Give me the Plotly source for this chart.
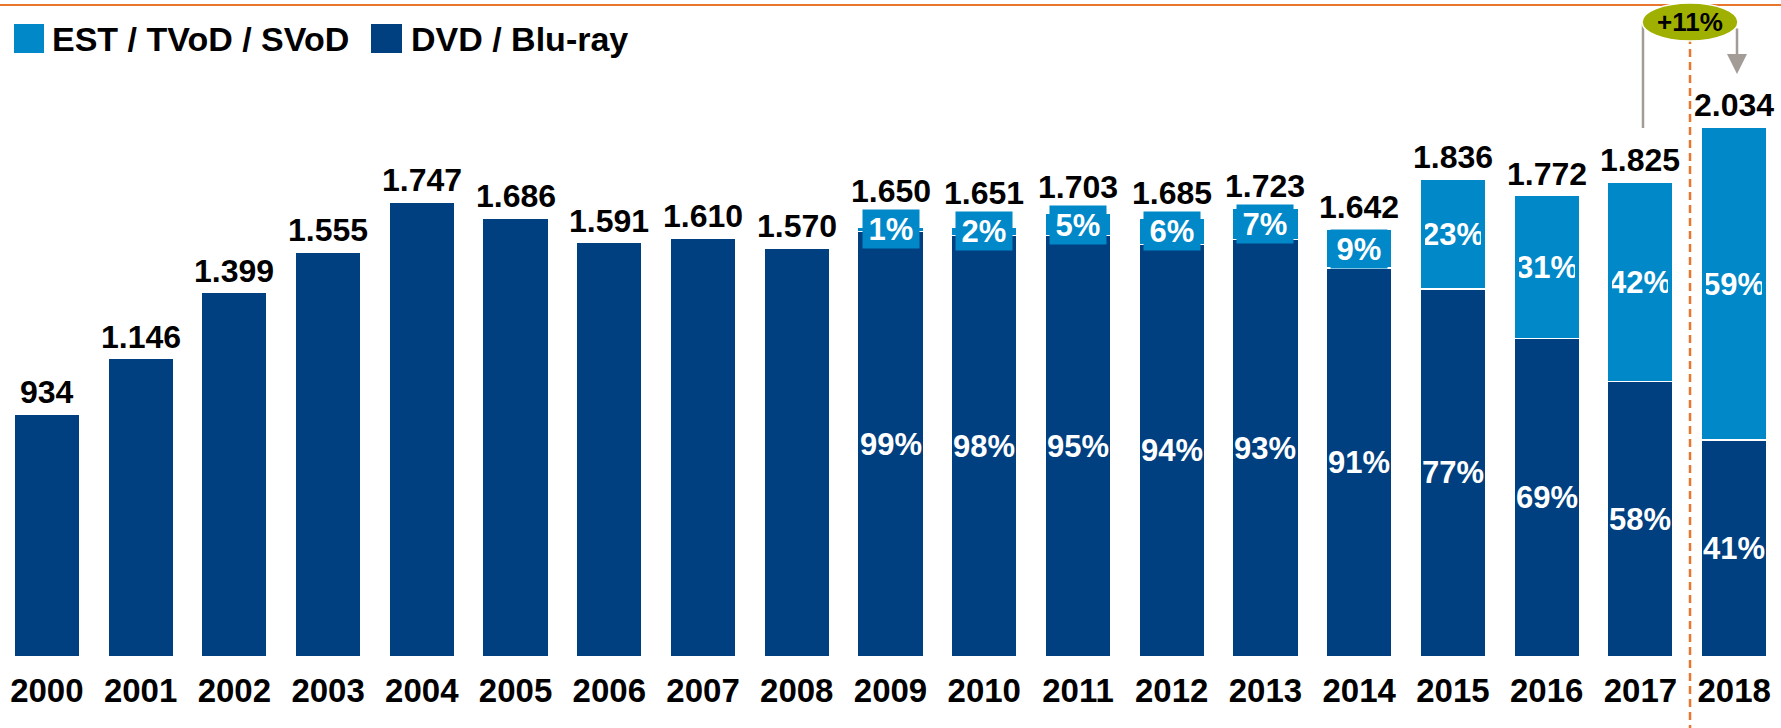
import plotly.graph_objects as go

# --- data ------------------------------------------------------------------
years = [str(y) for y in range(2000, 2019)]
totals = [934, 1146, 1399, 1555, 1747, 1686, 1591, 1610, 1570,
          1650, 1651, 1703, 1685, 1723, 1642, 1836, 1772, 1825, 2034]
digital_pct = [None] * 9 + [1, 2, 5, 6, 7, 9, 23, 31, 42, 59]
physical_pct = [None] * 9 + [99, 98, 95, 94, 93, 91, 77, 69, 58, 41]
growth_label = "+11%"

LIGHT = '#0088C8'
DARK = '#003F80'
ORANGE = '#E8762D'
GREY = '#A39C96'
OLIVE = '#A0B000'
FONT = 'Liberation Sans, Arial, sans-serif'

W, H = 1781, 728
MB = 71                      # bottom margin -> baseline at 657px
YMAX = 2523
PPU = (H - MB) / YMAX        # pixels per unit

digital = [t * p / 100 if p else 0 for t, p in zip(totals, digital_pct)]
physical = [t - d for t, d in zip(totals, digital)]

fig = go.Figure()
fig.add_trace(go.Bar(
    x=years, y=physical, name='DVD / Blu-ray',
    marker_color=DARK, marker_line=dict(color='white', width=1.5),
    hoverinfo='skip',
))
fig.add_trace(go.Bar(
    x=years, y=digital, name='EST / TVoD / SVoD',
    marker_color=LIGHT, marker_line=dict(color='white', width=1.5),
    hoverinfo='skip',
))

ann = []
for i, yr in enumerate(years):
    d, p, t = digital[i], physical[i], totals[i]
    # total value label above the bar (raised when the small % box sticks out)
    shift = 22
    if d > 0:
        shift = max(22, 38 - d / 2 * PPU)
    ann.append(dict(x=i, y=t, xref='x', yref='y', text=f'<b>{t:,}</b>'.replace(',', '.'),
                    showarrow=False, yanchor='middle', yshift=shift,
                    font=dict(size=32, color='black', family=FONT)))
    if digital_pct[i] is not None:
        ann.append(dict(x=i, y=p + d / 2, xref='x', yref='y',
                        text=f'<b>{digital_pct[i]}%</b>',
                        showarrow=False, yanchor='middle', xanchor='center',
                        width=56, height=38, bgcolor=LIGHT, borderpad=0,
                        font=dict(size=31, color='white', family=FONT)))
    if physical_pct[i] is not None:
        ann.append(dict(x=i, y=p / 2, xref='x', yref='y',
                        text=f'<b>{physical_pct[i]}%</b>',
                        showarrow=False, yanchor='middle',
                        font=dict(size=31, color='white', family=FONT)))


def py(px):
    """pixel row -> paper y"""
    return (H - MB - px) / (H - MB)


def px_(x):
    return x / W


shapes = [
    # orange rule at the very top
    dict(type='line', xref='paper', yref='paper', x0=0, x1=1, y0=py(5), y1=py(5),
         line=dict(color=ORANGE, width=2)),
    # dashed separator before 2018
    dict(type='line', xref='paper', yref='paper', x0=px_(1690), x1=px_(1690),
         y0=py(H + 5), y1=py(40), line=dict(color=ORANGE, width=2.5, dash='8px,5px')),
    # grey connector from 2017
    dict(type='line', xref='paper', yref='paper', x0=px_(1643), x1=px_(1643),
         y0=py(128), y1=py(24), line=dict(color=GREY, width=2.5)),
    # growth ellipse
    dict(type='circle', xref='paper', yref='paper', x0=px_(1642), x1=px_(1738),
         y0=py(41), y1=py(3), fillcolor=OLIVE, line=dict(color='white', width=1.5)),
    # legend squares
    dict(type='rect', xref='paper', yref='paper', x0=px_(14), x1=px_(44),
         y0=py(53), y1=py(24), fillcolor=LIGHT, line=dict(width=0)),
    dict(type='rect', xref='paper', yref='paper', x0=px_(371), x1=px_(402),
         y0=py(53), y1=py(24), fillcolor=DARK, line=dict(width=0)),
]

ann += [
    dict(xref='paper', yref='paper', x=px_(50), y=py(38.5), text='<b>EST / TVoD / SVoD</b>',
         showarrow=False, xanchor='left', yanchor='middle',
         font=dict(size=34, color='black', family=FONT)),
    dict(xref='paper', yref='paper', x=px_(409), y=py(38.5), text='<b>DVD / Blu-ray</b>',
         showarrow=False, xanchor='left', yanchor='middle',
         font=dict(size=34, color='black', family=FONT)),
    dict(xref='paper', yref='paper', x=px_(1690), y=py(22), text=f'<b>{growth_label}</b>',
         showarrow=False, xanchor='center', yanchor='middle',
         font=dict(size=26, color='black', family=FONT)),
    dict(xref='paper', yref='paper', x=px_(1737), y=py(74), text='', showarrow=True,
         ax=0, ay=-47, arrowhead=2, arrowsize=1.6, arrowwidth=2.5, arrowcolor=GREY),
]

fig.update_layout(
    barmode='stack', bargap=0.3,
    width=W, height=H,
    margin=dict(l=0, r=0, t=0, b=MB),
    plot_bgcolor='white', paper_bgcolor='white',
    showlegend=False,
    shapes=shapes, annotations=ann,
    font=dict(family=FONT),
)
fig.update_xaxes(type='category', range=[-0.5, 18.5], showline=False, showgrid=False,
                 zeroline=False, ticks='outside', ticklen=0, ticklabelstandoff=4,
                 tickfont=dict(size=33, color='black', family=FONT, weight='bold'))
fig.update_yaxes(range=[0, YMAX], visible=False, showgrid=False, zeroline=False)

fig.write_html("out.html", config={'displayModeBar': False},
               post_script="document.body.style.margin='0';")
